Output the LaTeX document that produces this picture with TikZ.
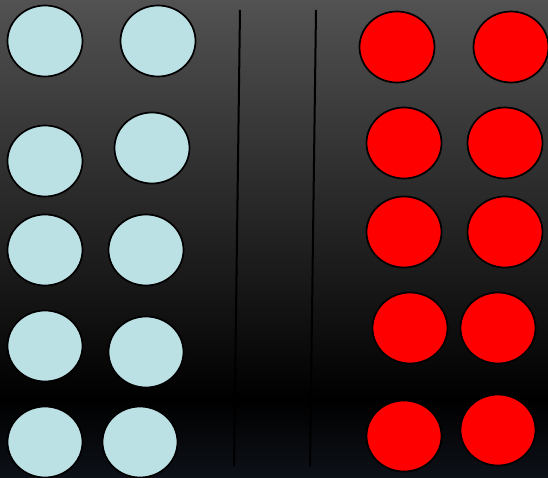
\documentclass[tikz,border=0pt]{standalone}
\usepackage{xcolor}
\usepackage{tikz}
\usetikzlibrary{shapes.geometric}
\definecolor{bgtop}{HTML}{525252}
\definecolor{bgbottom}{HTML}{0D1118}
\definecolor{chipblue}{HTML}{BCE1E5}
\definecolor{chipred}{HTML}{FF0000}
\pgfdeclareverticalshading{slateshade}{100bp}{color(0bp)=(bgbottom); color(25bp)=(bgbottom); color(33.2bp)=(black); color(75bp)=(bgtop); color(100bp)=(bgtop)}

\begin{document}
\begin{tikzpicture}[x=1pt, y=-1pt,
    chip/.style={ellipse, draw=black, line width=1.7pt, inner sep=0pt, minimum width=75pt, minimum height=71pt},
    bluechip/.style={chip, fill=chipblue},
    redchip/.style={chip, fill=chipred}]
  \useasboundingbox (0,0) rectangle (548,478);
  \shade[shading=slateshade] (0,0) rectangle (548,478);
  % left group
  \foreach \x/\y [count=\i] in {45/41, 158/41, 45/161, 152/148, 45/250, 146/250, 45/346, 146/352, 45/442, 140/442}
    \node[bluechip] (b\i) at (\x,\y) {};
  % right group
  \foreach \x/\y [count=\i] in {397/47, 511/47, 404/143, 505/143, 404/232, 505/232, 410/328, 498/328, 404/436, 498/430}
    \node[redchip] (r\i) at (\x,\y) {};
  % dividers
  \coordinate (d1top) at (240,10);
  \coordinate (d1bot) at (234,466);
  \coordinate (d2top) at (316,10);
  \coordinate (d2bot) at (310,466);
  \draw[line width=2pt] (d1top) -- (d1bot);
  \draw[line width=2pt] (d2top) -- (d2bot);
\end{tikzpicture}
\end{document}
